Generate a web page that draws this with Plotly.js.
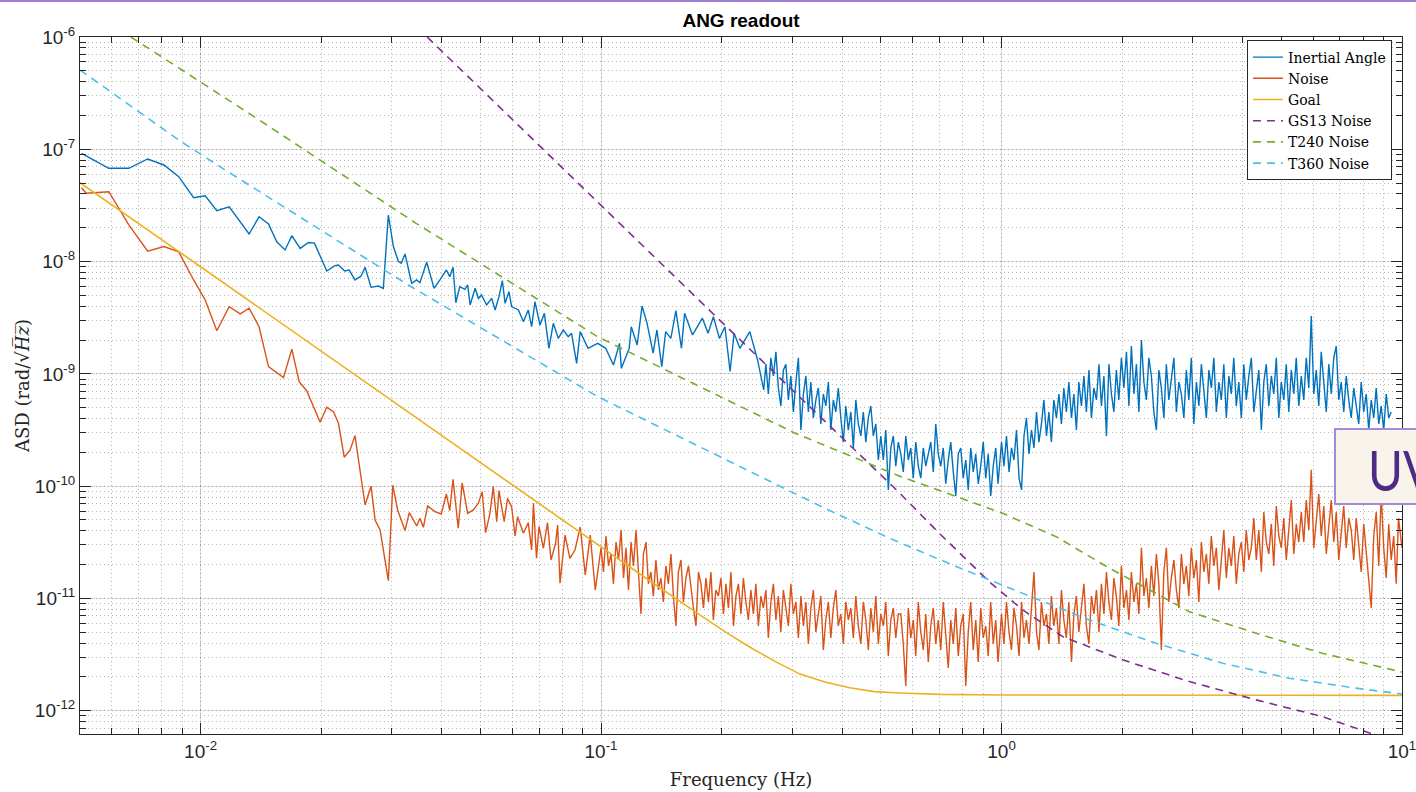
<!DOCTYPE html>
<html><head><meta charset="utf-8">
<script src="https://cdn.plot.ly/plotly-3.0.1.min.js"></script>
<style>
html,body{margin:0;padding:0;background:#fff;overflow:hidden;}
#chart{position:absolute;left:0;top:0;width:1416px;height:792px;}
#topline{position:absolute;left:0;top:0;width:1416px;height:2px;background:#9f80d6;z-index:5;}
#uvbox{position:absolute;left:1334px;top:428px;width:120px;height:73px;background:#f8f4ec;border:2px solid #a58ad8;z-index:5;}
#uvbox span{position:absolute;left:32px;top:12px;line-height:56px;font-family:Lato,'Noto Sans',sans-serif;font-size:56px;color:#4e2a84;transform:scaleX(0.85);transform-origin:left center;}
</style>
</head><body>
<div id="chart"></div>
<div id="topline"></div>
<div id="uvbox"><span>UV</span></div>
<script>
const seriesNames = ['Inertial Angle','Noise','Goal','GS13 Noise','T240 Noise','T360 Noise'];
const xTickVals = [0.01, 0.1, 1, 10];
const xTickText = ['10<sup>-2</sup>','10<sup>-1</sup>','10<sup>0</sup>','10<sup>1</sup>'];
const yTickVals = [1e-12, 1e-11, 1e-10, 1e-9, 1e-8, 1e-7, 1e-6];
const yTickText = ['10<sup>-12</sup>','10<sup>-11</sup>','10<sup>-10</sup>','10<sup>-9</sup>','10<sup>-8</sup>','10<sup>-7</sup>','10<sup>-6</sup>'];

// fine frequency grids (Hz) used by the dense parts of the spectra
const fineFreqA = [
0.1000,0.1014,0.1029,0.1044,0.1059,0.1074,0.1090,0.1106,0.1122,0.1138,
0.1154,0.1171,0.1188,0.1205,0.1223,0.1240,0.1258,0.1276,0.1295,0.1313,
0.1332,0.1351,0.1371,0.1391,0.1411,0.1431,0.1452,0.1473,0.1495,0.1516,
0.1538,0.1560,0.1583,0.1606,0.1629,0.1653,0.1677,0.1701,0.1726,0.1751,
0.1776,0.1802,0.1828,0.1854,0.1881,0.1908,0.1935,0.1963,0.1992,0.2021,
0.2051,0.2080,0.2110,0.2141,0.2172,0.2203,0.2235,0.2267,0.2300,0.2333,
0.2367,0.2401,0.2436,0.2471,0.2507,0.2543,0.2580,0.2617,0.2655,0.2694,
0.2733,0.2772,0.2812,0.2853,0.2894,0.2936,0.2978,0.3022,0.3066,0.3110,
0.3155,0.3201,0.3247,0.3294,0.3341,0.3390,0.3439,0.3489,0.3539,0.3590,
0.3642,0.3695,0.3748,0.3802,0.3857,0.3913,0.3970,0.4027,0.4085,0.4145,
0.4205,0.4266,0.4327,0.4390,0.4454,0.4518,0.4583,0.4650,0.4717,0.4785,
0.4854,0.4925,0.4996,0.5068,0.5141,0.5216,0.5291,0.5368,0.5445,0.5524,
0.5604,0.5685,0.5767,0.5851,0.5935,0.6021,0.6108,0.6197,0.6286,0.6378,
0.6470,0.6564,0.6658,0.6755,0.6852,0.6952,0.7052,0.7154,0.7257,0.7363,
0.7469,0.7578,0.7687,0.7798,0.7910,0.8025,0.8141,0.8259,0.8378,0.8500,
0.8623,0.8748,0.8873,0.9003,0.9133,0.9265,0.9398,0.9535,0.9673,0.9801];
const fineFreqB = [
1.000,1.014,1.029,1.044,1.059,1.074,1.090,1.106,1.122,1.138,
1.154,1.171,1.188,1.205,1.223,1.240,1.258,1.276,1.295,1.313,
1.332,1.351,1.371,1.391,1.411,1.431,1.452,1.473,1.495,1.516,
1.538,1.560,1.583,1.606,1.629,1.653,1.677,1.701,1.726,1.751,
1.776,1.802,1.828,1.854,1.881,1.908,1.935,1.963,1.992,2.021,
2.051,2.080,2.110,2.141,2.172,2.203,2.235,2.267,2.300,2.333,
2.367,2.401,2.436,2.471,2.507,2.543,2.580,2.617,2.655,2.694,
2.733,2.772,2.812,2.853,2.894,2.936,2.978,3.022,3.066,3.110,
3.155,3.201,3.247,3.294,3.341,3.390,3.439,3.489,3.539,3.590,
3.642,3.695,3.748,3.802,3.857,3.913,3.970,4.027,4.085,4.145,
4.205,4.266,4.327,4.390,4.454,4.518,4.583,4.650,4.717,4.785,
4.854,4.925,4.996,5.068,5.141,5.216,5.291,5.368,5.445,5.524,
5.604,5.685,5.767,5.851,5.935,6.021,6.108,6.197,6.286,6.378,
6.470,6.564,6.658,6.755,6.852,6.952,7.052,7.154,7.257,7.363,
7.469,7.578,7.687,7.798,7.910,8.025,8.141,8.259,8.378,8.500,
8.623,8.748,8.873,9.003,9.133,9.265,9.398,9.535,9.673,9.801,
10.0];

// Inertial Angle
const angleLowFreq = [
0.005045,0.0059,0.00662,0.00738,0.0081,0.00882,0.00961,0.01027,0.01098,0.01179,
0.01322,0.0140,0.01478,0.0155,0.01626,0.0169,0.01773,0.0186,0.01925,0.02066,
0.02165,0.0221,0.0229,0.0235,0.0243,0.02517,0.02575,0.02665,0.0278,0.0286,
0.02944,0.0303,0.0312,0.0317,0.0324,0.03366,0.03465,0.0353,0.0367,0.0383,
0.0396,0.0411,0.0419,0.0427,0.0434,0.0444,0.0457,0.04645,0.0471,0.0485,
0.0494,0.0503,0.0518,0.0533,0.0544,0.0556,0.0567,0.0576,0.0589,0.0598,
0.0622,0.0640,0.0658,0.0671,0.0684,0.0704,0.0722,0.0741,0.0760,0.0782,
0.0805,0.0828,0.0844,0.0869,0.0887,0.0928,0.0981,0.1027,0.1074,0.1112,
0.1124,0.1176,0.1190,0.1231,0.1266,0.1303,0.1349,0.1379,0.1418,0.1450,
0.1494,0.1538,0.1588,0.1617,0.1692,0.1791,0.1850,0.1908,0.1975,0.2039,
0.2100,0.2149,0.2222,0.2352,0.2460,0.2548];
const angleLowAsd = [
9.21e-8,6.77e-8,6.77e-8,8.20e-8,7.25e-8,5.70e-8,3.71e-8,3.86e-8,2.84e-8,3.08e-8,
1.76e-8,2.51e-8,2.16e-8,1.50e-8,1.27e-8,1.70e-8,1.31e-8,1.48e-8,1.46e-8,8.25e-9,
9.20e-9,9.33e-9,8.25e-9,8.42e-9,6.86e-9,7.44e-9,8.90e-9,5.90e-9,6.06e-9,5.78e-9,
2.60e-8,1.36e-8,1.00e-8,9.66e-9,1.17e-8,6.41e-9,6.86e-9,6.49e-9,9.86e-9,5.78e-9,
6.86e-9,8.42e-9,7.34e-9,8.90e-9,4.30e-9,5.98e-9,5.66e-9,6.19e-9,4.11e-9,5.78e-9,
4.71e-9,5.04e-9,4.11e-9,4.71e-9,3.71e-9,4.87e-9,6.76e-9,4.25e-9,5.40e-9,3.97e-9,
3.71e-9,2.91e-9,3.71e-9,2.63e-9,4.39e-9,2.72e-9,3.46e-9,1.69e-9,2.82e-9,2.07e-9,
2.46e-9,2.14e-9,2.30e-9,1.24e-9,2.38e-9,1.69e-9,1.87e-9,1.69e-9,1.20e-9,1.87e-9,
1.12e-9,1.69e-9,2.63e-9,1.81e-9,4.02e-9,2.82e-9,1.53e-9,2.46e-9,1.16e-9,2.38e-9,
2.07e-9,3.66e-9,1.69e-9,3.46e-9,2.22e-9,3.13e-9,2.30e-9,3.23e-9,2.07e-9,2.63e-9,
1.05e-9,2.30e-9,1.69e-9,2.38e-9,1.33e-9,7.19e-10];
// values on fineFreqA from 0.2580 Hz to 0.9801 Hz
const angleFineAsdA = [
1.22e-9,6.62e-10,1.39e-9,9.58e-10,1.57e-9,7.49e-10,5.18e-10,1.08e-9,1.22e-9,5.86e-10,9.58e-10,4.58e-10,8.47e-10,1.39e-9,
3.16e-10,6.62e-10,9.58e-10,4.58e-10,8.47e-10,4.05e-10,5.86e-10,7.49e-10,3.58e-10,6.62e-10,5.18e-10,8.47e-10,3.16e-10,5.86e-10,4.58e-10,7.49e-10,
4.05e-10,2.47e-10,5.18e-10,3.16e-10,4.58e-10,2.19e-10,5.86e-10,3.58e-10,2.80e-10,4.58e-10,2.47e-10,4.05e-10,5.18e-10,2.80e-10,3.58e-10,1.71e-10,
2.80e-10,1.71e-10,3.16e-10,9.25e-11,2.19e-10,2.80e-10,1.51e-10,2.47e-10,1.94e-10,1.34e-10,2.80e-10,1.71e-10,2.19e-10,1.18e-10,2.47e-10,1.51e-10,
1.18e-10,2.19e-10,1.51e-10,1.94e-10,2.47e-10,1.34e-10,3.58e-10,1.94e-10,1.51e-10,2.19e-10,1.05e-10,1.71e-10,2.47e-10,1.34e-10,8.18e-11,1.94e-10,
2.19e-10,1.18e-10,1.71e-10,9.25e-11,2.19e-10,1.34e-10,1.94e-10,1.05e-10,1.51e-10,2.47e-10,1.18e-10,1.94e-10,8.18e-11,1.51e-10,2.19e-10,1.05e-10];
// values on fineFreqB from 1.000 Hz to 9.398 Hz
const angleFineAsdB = [
2.47e-10,1.51e-10,2.80e-10,1.34e-10,2.19e-10,1.71e-10,3.16e-10,1.18e-10,
9.25e-11,2.80e-10,4.05e-10,1.94e-10,3.16e-10,2.19e-10,4.58e-10,2.47e-10,
3.58e-10,5.86e-10,2.80e-10,4.58e-10,2.47e-10,5.86e-10,4.05e-10,6.62e-10,
3.58e-10,7.49e-10,4.58e-10,8.47e-10,4.05e-10,6.62e-10,3.16e-10,8.47e-10,
5.18e-10,9.58e-10,4.58e-10,1.08e-9,4.05e-10,7.49e-10,5.86e-10,1.22e-9,
5.18e-10,9.58e-10,2.80e-10,1.22e-9,6.62e-10,4.58e-10,1.08e-9,5.86e-10,1.39e-9,7.49e-10,
1.57e-9,5.18e-10,1.77e-9,6.62e-10,1.22e-9,4.58e-10,2.00e-9,8.47e-10,5.86e-10,1.39e-9,
9.58e-10,4.58e-10,3.16e-10,1.08e-9,7.49e-10,4.05e-10,1.22e-9,5.86e-10,9.58e-10,1.39e-9,
4.58e-10,8.47e-10,6.62e-10,4.05e-10,1.08e-9,5.86e-10,1.39e-9,3.58e-10,8.47e-10,5.18e-10,
1.22e-9,6.62e-10,4.05e-10,1.08e-9,7.49e-10,1.39e-9,4.58e-10,8.47e-10,5.86e-10,1.22e-9,
4.05e-10,9.58e-10,6.62e-10,1.39e-9,5.18e-10,8.47e-10,4.05e-10,1.22e-9,5.86e-10,9.58e-10,
1.39e-9,4.58e-10,7.49e-10,1.08e-9,3.16e-10,8.47e-10,1.22e-9,5.18e-10,9.58e-10,6.62e-10,
1.39e-9,4.05e-10,8.47e-10,5.86e-10,1.22e-9,4.58e-10,1.08e-9,6.62e-10,1.39e-9,5.18e-10,
9.58e-10,5.86e-10,1.39e-9,7.49e-10,3.28e-9,6.62e-10,1.08e-9,5.18e-10,1.57e-9,8.47e-10,4.58e-10,1.22e-9,6.62e-10,1.39e-9,1.77e-9,5.86e-10,
8.47e-10,4.58e-10,9.58e-10,5.86e-10,4.05e-10,7.49e-10,5.18e-10,3.58e-10,8.47e-10,4.58e-10,6.62e-10,3.16e-10,5.86e-10,4.05e-10,7.49e-10,3.58e-10,5.18e-10,3.16e-10,6.62e-10,4.05e-10,4.58e-10];

// Noise
const noiseLowFreq = [
0.005045,0.00518,0.0059,0.00625,0.00662,0.00738,0.0081,0.00882,0.00961,0.01027,
0.01098,0.01179,0.01256,0.01322,0.0140,0.01478,0.01611,0.0169,0.01763,0.01842,
0.01989,0.02066,0.02147,0.0221,0.02284,0.02363,0.0243,0.02575,0.02665,0.02728,
0.02807,0.02944,0.03019,0.03105,0.0324,0.0332,0.03465,0.0353,0.0360,0.0369,
0.0385,0.0399,0.0411,0.0419,0.0427,0.0440,0.0450,0.04645,0.0480,0.0494,
0.0505,0.0515,0.0528,0.0538,0.0549,0.0556,0.0573,0.0584,0.0598,0.0610,
0.0619,0.0640,0.0658,0.0671,0.0678,0.0690,0.0700,0.0718,0.0735,0.0750,
0.0770,0.0779,0.0790,0.0813,0.0836,0.0861,0.08873,0.09133,0.09398,0.09673];
const noiseLowAsd = [
4.55e-8,4.06e-8,4.19e-8,2.98e-8,2.12e-8,1.24e-8,1.36e-8,1.22e-8,6.86e-9,4.55e-9,
2.42e-9,3.97e-9,3.42e-9,3.84e-9,2.63e-9,1.16e-9,9.25e-10,1.66e-9,8.52e-10,7.04e-10,
3.71e-10,5.04e-10,4.61e-10,3.63e-10,1.81e-10,2.10e-10,2.82e-10,6.80e-11,1.00e-10,5.00e-11,
4.07e-11,1.44e-11,1.02e-10,6.14e-11,4.02e-11,5.81e-11,4.42e-11,5.18e-11,4.30e-11,6.66e-11,
5.93e-11,5.65e-11,8.52e-11,6.05e-11,1.15e-10,4.22e-11,1.07e-10,5.73e-11,6.14e-11,7.04e-11,
8.93e-11,3.86e-11,5.73e-11,9.90e-11,4.83e-11,9.12e-11,4.83e-11,7.80e-11,6.57e-11,3.60e-11,
5.35e-11,3.81e-11,4.73e-11,2.70e-11,7.04e-11,2.28e-11,4.36e-11,2.80e-11,4.73e-11,2.20e-11,
3.10e-11,4.51e-11,1.37e-11,3.67e-11,2.28e-11,2.70e-11,4.33e-11,1.62e-11,3.67e-11,1.19e-11];
const noiseFineAsdA = [
2.82e-11,1.72e-11,3.60e-11,1.95e-11,2.49e-11,1.35e-11,3.18e-11,2.20e-11,4.07e-11,1.52e-11,
2.82e-11,1.19e-11,3.18e-11,1.95e-11,4.07e-11,1.72e-11,7.28e-12,2.49e-11,3.18e-11,1.35e-11,
1.72e-11,1.05e-11,2.20e-11,1.19e-11,1.52e-11,9.31e-12,1.95e-11,1.35e-11,2.49e-11,1.05e-11,
5.69e-12,1.72e-11,2.20e-11,9.31e-12,1.52e-11,1.95e-11,1.19e-11,8.23e-12,5.69e-12,1.72e-11,
1.35e-11,8.23e-12,1.52e-11,9.31e-12,1.72e-11,6.43e-12,1.19e-11,1.05e-11,1.52e-11,7.28e-12,
1.35e-11,8.23e-12,1.72e-11,5.69e-12,1.05e-11,1.35e-11,7.28e-12,1.52e-11,9.31e-12,6.43e-12,
1.19e-11,7.28e-12,1.35e-11,5.69e-12,1.05e-11,8.23e-12,1.19e-11,4.45e-12,9.31e-12,1.35e-11,
6.43e-12,1.05e-11,5.03e-12,1.19e-11,8.23e-12,5.69e-12,1.35e-11,7.28e-12,9.31e-12,4.45e-12,
1.05e-11,5.69e-12,9.31e-12,3.93e-12,8.23e-12,1.19e-11,5.03e-12,7.28e-12,1.05e-11,3.48e-12,
6.43e-12,9.31e-12,4.45e-12,8.23e-12,1.19e-11,5.69e-12,7.28e-12,3.93e-12,9.31e-12,6.43e-12,
8.23e-12,4.45e-12,1.05e-11,5.69e-12,3.93e-12,9.31e-12,6.43e-12,3.48e-12,8.23e-12,5.03e-12,
1.05e-11,3.93e-12,7.28e-12,5.69e-12,9.31e-12,3.08e-12,6.43e-12,8.23e-12,4.45e-12,7.28e-12,
7.28e-12,3.93e-12,1.66e-12,8.23e-12,4.45e-12,6.43e-12,3.08e-12,9.31e-12,5.03e-12,3.48e-12,
7.28e-12,2.72e-12,5.69e-12,8.23e-12,3.93e-12,6.43e-12,3.48e-12,9.31e-12,4.45e-12,2.40e-12,
6.43e-12,3.93e-12,8.23e-12,3.08e-12,5.69e-12,7.28e-12,1.66e-12,5.03e-12,9.31e-12,3.48e-12,
6.43e-12,2.72e-12,8.23e-12,4.45e-12,5.69e-12,3.08e-12,9.31e-12,3.93e-12,6.43e-12,2.72e-12];
const noiseFineAsdB = [
7.28e-12,3.93e-12,9.31e-12,5.03e-12,3.48e-12,8.23e-12,5.69e-12,3.08e-12,9.31e-12,4.45e-12,
6.43e-12,3.93e-12,8.23e-12,1.72e-11,5.03e-12,3.48e-12,9.31e-12,5.69e-12,7.28e-12,3.93e-12,
1.05e-11,5.69e-12,8.23e-12,3.93e-12,1.19e-11,6.43e-12,4.45e-12,9.31e-12,2.72e-12,7.28e-12,
1.05e-11,5.03e-12,8.23e-12,1.35e-11,5.69e-12,3.93e-12,1.05e-11,7.28e-12,1.19e-11,5.03e-12,
1.35e-11,7.28e-12,1.72e-11,9.31e-12,6.43e-12,1.52e-11,1.05e-11,5.69e-12,1.95e-11,8.23e-12,
1.19e-11,6.43e-12,1.72e-11,9.31e-12,1.35e-11,7.28e-12,2.82e-11,1.05e-11,1.52e-11,8.23e-12,
1.95e-11,1.05e-11,2.49e-11,1.35e-11,3.48e-12,1.72e-11,2.82e-11,9.31e-12,1.52e-11,2.20e-11,
1.19e-11,8.23e-12,2.49e-11,1.35e-11,1.95e-11,1.05e-11,2.82e-11,1.52e-11,2.20e-11,9.31e-12,
3.18e-11,1.72e-11,2.49e-11,1.35e-11,3.60e-11,1.95e-11,2.82e-11,1.19e-11,2.20e-11,4.07e-11,
1.52e-11,2.82e-11,1.95e-11,3.60e-11,1.35e-11,2.49e-11,3.18e-11,1.72e-11,4.07e-11,2.20e-11,
2.82e-11,5.21e-11,2.20e-11,4.07e-11,1.72e-11,5.89e-11,3.18e-11,2.49e-11,4.61e-11,1.95e-11,
6.66e-11,3.60e-11,2.82e-11,5.21e-11,2.20e-11,4.07e-11,7.54e-11,2.49e-11,4.61e-11,3.18e-11,
5.89e-11,3.18e-11,7.54e-11,4.07e-11,1.40e-10,2.82e-11,5.21e-11,8.52e-11,3.60e-11,6.66e-11,
2.49e-11,4.61e-11,7.54e-11,3.18e-11,5.89e-11,2.20e-11,4.07e-11,6.66e-11,2.82e-11,5.21e-11,
4.07e-11,2.20e-11,5.21e-11,2.82e-11,1.72e-11,4.61e-11,2.49e-11,1.35e-11,8.23e-12,3.60e-11,
5.89e-11,1.95e-11,8.52e-11,2.82e-11,1.52e-11,4.61e-11,2.20e-11,3.60e-11,1.35e-11,5.21e-11,
2.82e-11];

// model curves
const goalFreq = [0.005,0.01,0.1,0.1325,0.178,0.2039,0.235,0.272,0.313,0.362,0.418,0.481,0.557,0.70,1.0,10];
const goalAsd  = [5.04e-8,9.0e-9,2.88e-11,1.43e-11,7.0e-12,5.06e-12,3.7e-12,2.75e-12,2.13e-12,1.80e-12,1.6e-12,1.48e-12,1.44e-12,1.40e-12,1.38e-12,1.37e-12];
const gs13Freq = [0.0368,0.1087,0.1938,0.401,0.547,0.702,0.934,1.130,1.422,2.007,2.944,4.32,6.33,8.13,10];
const gs13Asd  = [1e-6,2.35e-8,3.23e-9,2.67e-10,9.25e-11,3.75e-11,1.40e-11,7.90e-12,4.57e-12,2.84e-12,1.82e-12,1.25e-12,8.86e-13,6.51e-13,5.06e-13];
const t240Freq = [0.0067,0.0100,0.0138,0.03455,0.0981,0.3055,0.547,0.772,1.007,1.369,1.86,2.432,2.944,4.32,6.33,10];
const t240Asd  = [1e-6,4.00e-7,1.89e-7,2.19e-8,2.14e-9,2.96e-10,1.26e-10,8.06e-11,5.73e-11,3.55e-11,1.86e-11,1.11e-11,7.63e-12,4.90e-12,3.25e-12,2.21e-12];
const t360Freq = [0.005,0.00723,0.00882,0.01152,0.033,0.0981,0.362,0.526,0.772,1.130,1.658,2.432,3.565,5.23,7.67,10];
const t360Asd  = [5.08e-7,2.02e-7,1.21e-7,6.54e-8,6.19e-9,6.27e-10,6.36e-11,3.43e-11,1.92e-11,1.11e-11,6.43e-12,3.99e-12,2.65e-12,1.95e-12,1.59e-12,1.41e-12];

const angleFreq = angleLowFreq.concat(fineFreqA.slice(66), fineFreqB.slice(0, angleFineAsdB.length));
const angleAsd  = angleLowAsd.concat(angleFineAsdA, angleFineAsdB);
const noiseFreq = noiseLowFreq.concat(fineFreqA, fineFreqB);
const noiseAsd  = noiseLowAsd.concat(noiseFineAsdA, noiseFineAsdB);

const DASH = '8px,6px';
const traces = [
  {x: angleFreq, y: angleAsd, name: seriesNames[0], line:{color:'#0072BD', width:1.4}},
  {x: noiseFreq, y: noiseAsd, name: seriesNames[1], line:{color:'#D95319', width:1.4}},
  {x: goalFreq,  y: goalAsd,  name: seriesNames[2], line:{color:'#EDB120', width:1.6}},
  {x: gs13Freq,  y: gs13Asd,  name: seriesNames[3], line:{color:'#7E2F8E', width:1.6, dash:DASH}},
  {x: t240Freq,  y: t240Asd,  name: seriesNames[4], line:{color:'#77AC30', width:1.6, dash:DASH}},
  {x: t360Freq,  y: t360Asd,  name: seriesNames[5], line:{color:'#4DBEEE', width:1.6, dash:DASH}}
].map(t => Object.assign({type:'scatter', mode:'lines', hoverinfo:'skip'}, t));

const axisCommon = {
  type:'log', tickmode:'array', ticklabeloverflow:'allow',
  ticks:'inside', ticklen:11, tickwidth:1, tickcolor:'#262626',
  showline:true, linecolor:'#262626', linewidth:1, mirror:'ticks',
  showgrid:true, gridcolor:'rgba(38,38,38,0.15)', gridwidth:1,
  zeroline:false, automargin:false,
  tickfont:{family:'Liberation Sans, Arial, sans-serif', size:19, color:'#262626'},
  minor:{ticks:'inside', ticklen:6, tickcolor:'#262626', dtick:'D1',
         showgrid:true, gridcolor:'rgba(38,38,38,0.32)', griddash:'1px,3px', gridwidth:1}
};

const layout = {
  width:1416, height:792,
  margin:{l:80, r:14, t:37, b:58},
  paper_bgcolor:'#ffffff', plot_bgcolor:'#ffffff',
  showlegend:true,
  title:{text:'<b>ANG readout</b>', x:0.5, xref:'paper', y:0.974, yref:'container', yanchor:'middle',
         font:{family:'Liberation Sans, Arial, sans-serif', size:19, color:'#000000'}},
  xaxis: Object.assign({}, axisCommon, {
    range:[-2.30103, 1], tickvals:xTickVals, ticktext:xTickText,
    title:{text:'Frequency (Hz)', standoff:12, font:{family:'DejaVu Serif, serif', size:18, color:'#262626'}}
  }),
  yaxis: Object.assign({}, axisCommon, {
    range:[-12.207, -6], tickvals:yTickVals, ticktext:yTickText,
    title:{text:'ASD (rad/√<i>H\u0305z\u0305</i>)', standoff:0, font:{family:'DejaVu Serif, serif', size:18, color:'#262626'}}
  }),
  legend:{x:0.9924, y:0.995, xanchor:'right', yanchor:'top', bgcolor:'#ffffff',
          bordercolor:'#262626', borderwidth:1, tracegroupgap:0,
          font:{family:'DejaVu Serif, serif', size:14, color:'#000000'}},
  hovermode:false
};

Plotly.newPlot('chart', traces, layout, {displayModeBar:false, staticPlot:true});
</script>
</body></html>
